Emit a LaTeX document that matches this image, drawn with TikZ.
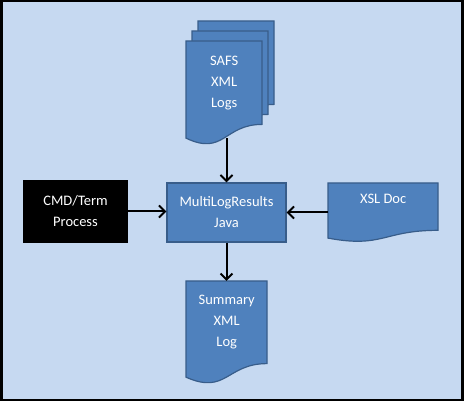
\documentclass[tikz,border=0pt]{standalone}
\usepackage{fontspec}
\setmainfont{Carlito}
\usetikzlibrary{arrows.meta}
\definecolor{mybg}{RGB}{198,217,241}
\definecolor{myblue}{RGB}{79,129,189}
\definecolor{mydarkblue}{RGB}{56,93,138}
\newcommand{\docpath}[4]{%
  \draw[docshape] (#1,#2) -- ({#1+#3},#2) -- ({#1+#3},{#2-0.802*#4})
    .. controls ({#1+0.5*#3},{#2-0.802*#4}) and ({#1+0.5*#3},{#2-1.108*#4}) .. (#1,{#2-0.934*#4}) -- cycle;
}
\newcommand{\docnode}[6]{%
  \docpath{#2}{#3}{#4}{#5}
  \node[doctext, minimum width=#4pt, minimum height=0.8*#5pt, anchor=north west] (#1) at (#2,#3) {#6};
  \coordinate (#1-b) at ({#2+0.5*#4},{#3-0.933*#5});
}
\tikzset{
    common/.style={align=center, text=white, font=\fontsize{14.5}{21}\selectfont, inner sep=0pt},
    docshape/.style={fill=myblue, draw=mydarkblue, line width=1.2pt},
    doctext/.style={common, rectangle},
    procbox/.style={common, rectangle, fill=myblue, draw=mydarkblue, line width=1.2pt},
    termbox/.style={common, rectangle, fill=black, draw=black, line width=1.2pt},
    arr/.style={-{Straight Barb[length=6pt, width=12pt]}, line width=2pt, black},
    frame/.style={fill=mybg, draw=black, line width=2.5pt}
}
\begin{document}
\begin{tikzpicture}[x=1pt, y=1pt]
    \useasboundingbox (0,0) rectangle (464,402);
    \draw[frame] (1.25,1.75) rectangle (462.5,400.75);

    % document stack
    \docpath{198}{381}{76}{104}
    \docpath{192}{371}{76}{104}
    \docnode{safs}{186}{361}{76}{104}{SAFS\\XML\\Logs}

    \node[termbox, minimum width=103pt, minimum height=61pt] (cmd) at (75.5,190.5) {CMD/Term\\Process};
    \node[procbox, minimum width=119pt, minimum height=59pt] (multi) at (226.5,189.5) {MultiLogResults\\Java};
    \docnode{xsl}{328}{219}{110}{59}{XSL Doc\\[-4pt]\mbox{}}
    \docnode{summary}{186}{121}{81}{103}{Summary\\XML\\Log}

    \draw[arr] (safs-b -| multi.north) -- (multi.north);
    \draw[arr] (cmd.east) -- (cmd.east -| multi.west);
    \draw[arr] (xsl.west |- multi) -- (multi.east);
    \draw[arr] (multi.south) -- (multi.south |- summary.north);
\end{tikzpicture}
\end{document}
